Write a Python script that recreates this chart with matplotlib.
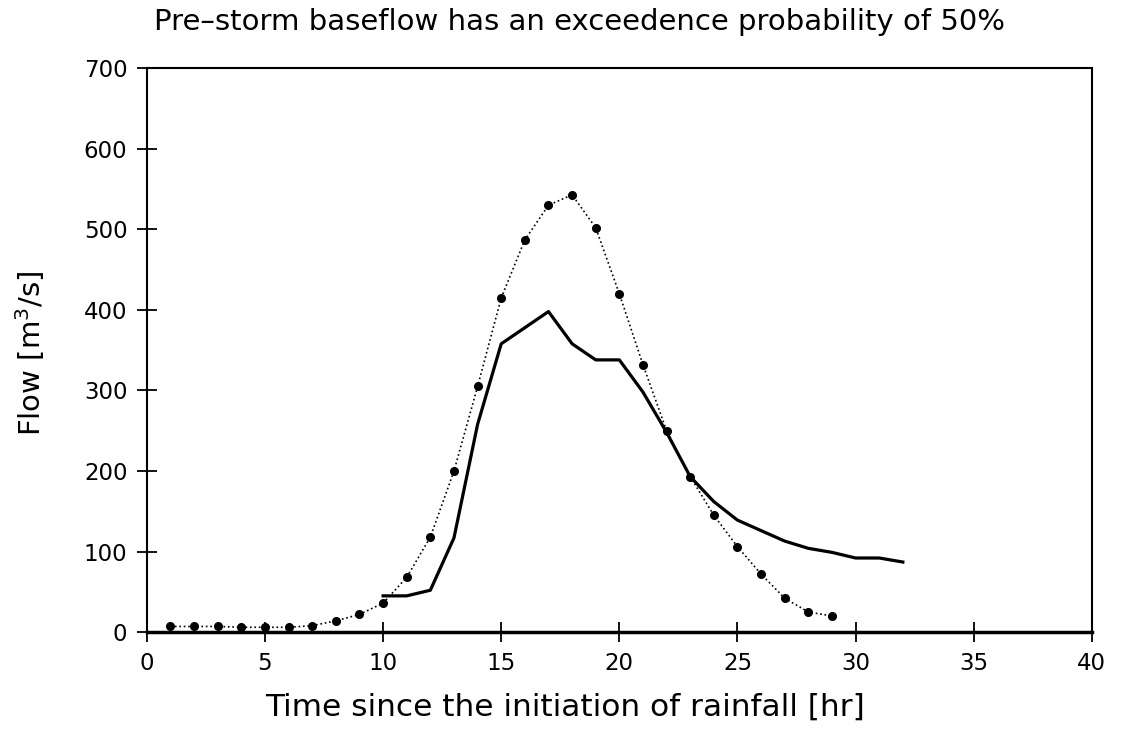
import matplotlib.pyplot as plt

# storm hydrograph
hours_sim = list(range(1, 30))
flow_sim = [7, 7, 7, 6, 6, 6, 8, 14, 22, 36, 68, 118, 200, 305, 415,
            487, 530, 543, 502, 420, 332, 250, 193, 145, 106, 72, 42, 25, 20]

hours_obs = list(range(10, 33))
flow_obs = [45, 45, 52, 117, 258, 358, 378, 398, 358, 338, 338, 298, 248,
            193, 162, 139, 126, 113, 104, 99, 92, 92, 87]

title = 'Pre\u2013storm baseflow has an exceedence probability of 50%'

plt.rcParams['font.family'] = ['DejaVu Sans']
fig = plt.figure(figsize=(11.21, 7.35), dpi=100)
ax = fig.add_axes([0.131, 0.14, 0.843, 0.767])

ax.plot(hours_sim, flow_sim, color='black', linestyle=':', linewidth=1.2,
        marker='o', markersize=5.5)
ax.plot(hours_obs, flow_obs, color='black', linestyle='-', linewidth=2.3)

ax.set_xlim(0, 40)
ax.set_ylim(0, 700)
ax.set_xticks(range(0, 41, 5))
ax.set_yticks(range(0, 701, 100))

for side in ['left', 'top', 'right']:
    ax.spines[side].set_linewidth(1.5)
ax.spines['bottom'].set_linewidth(2.5)
ax.tick_params(axis='both', direction='inout', length=14, width=1.3,
               labelsize=16.5, pad=7)

ax.set_xlabel('Time since the initiation of rainfall [hr]', fontsize=22.5)
ax.xaxis.set_label_coords(0.443, -0.108)
ax.set_ylabel('Flow [m$^3$/s]', fontsize=21)
ax.yaxis.set_label_coords(-0.106, 0.494)
fig.text(0.517, 0.97, title, fontsize=21, ha='center', va='center')

fig.savefig('out.png', dpi=100)
